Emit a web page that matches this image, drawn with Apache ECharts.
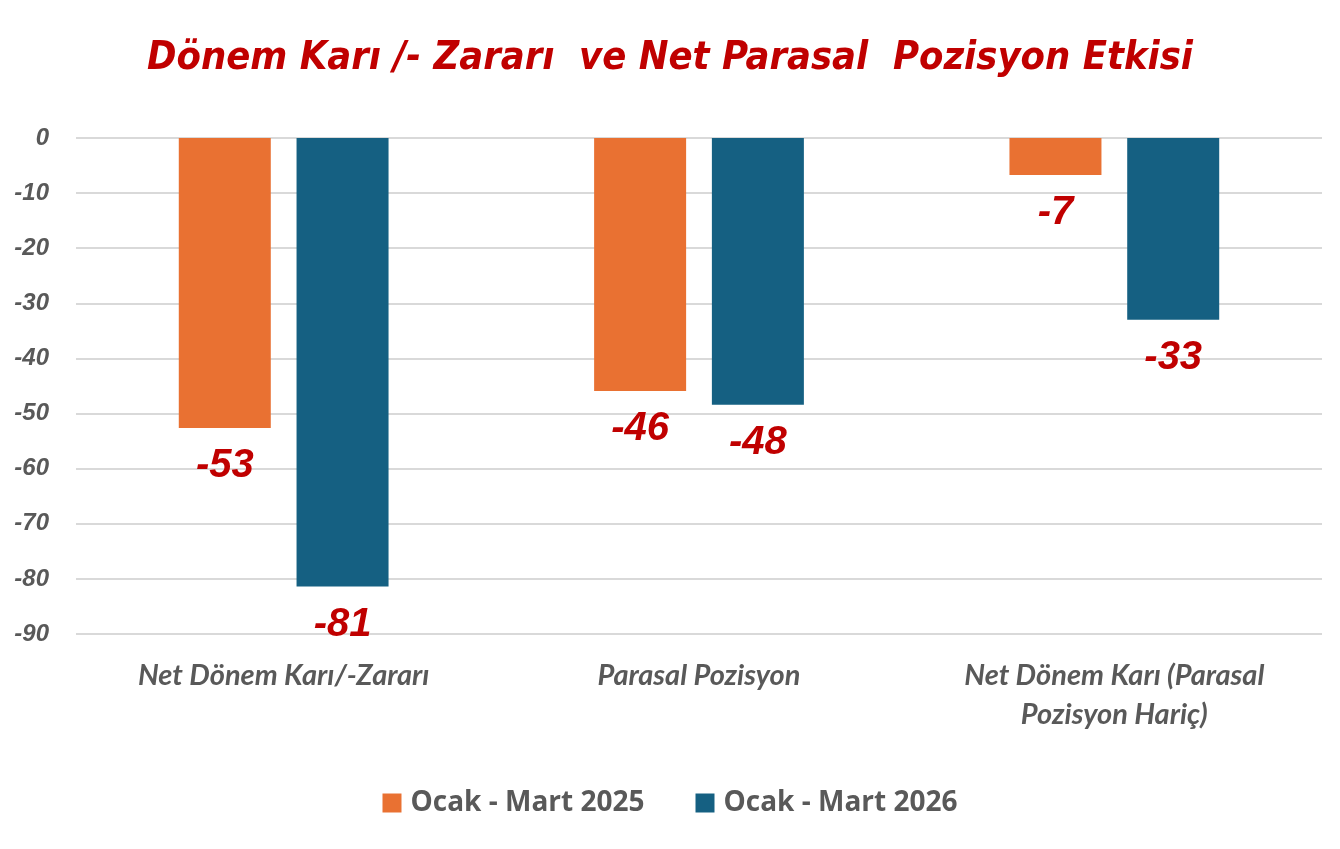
<!DOCTYPE html>
<html>
<head>
<meta charset="utf-8">
<script src="https://cdn.jsdelivr.net/npm/echarts@6/dist/echarts.min.js"></script>
<style>
  html, body { margin: 0; padding: 0; background: #fff; }
  #main { width: 1340px; height: 849px; }
</style>
</head>
<body>
<div id="main"></div>
<script>
var categories = ['Net Dönem Karı/-Zararı', 'Parasal Pozisyon', 'Net Dönem Karı (Parasal\nPozisyon Hariç)'];
var seriesNames = ['Ocak - Mart 2025', 'Ocak - Mart 2026'];
var values2025 = [-52.6, -45.9, -6.7];
var values2026 = [-81.4, -48.4, -33.0];

var myChart = echarts.init(document.getElementById('main'));

var valueLabel = {
    show: true,
    position: 'bottom',
    distance: 18,
    color: '#C00000',
    fontFamily: 'Liberation Sans',
    fontWeight: 'bold',
    fontStyle: 'italic',
    fontSize: 40,
    formatter: function (p) { return Math.round(p.value); }
};

var option = {
    backgroundColor: '#fff',
    animation: false,
    title: {
        text: 'Dönem Karı /- Zararı  ve Net Parasal  Pozisyon Etkisi',
        left: 'center',
        top: 34,
        textStyle: {
            color: '#C00000',
            fontFamily: 'DejaVu Sans Condensed',
            fontWeight: 'bold',
            fontStyle: 'italic',
            fontSize: 39.5
        }
    },
    legend: {
        top: 784,
        left: 'center',
        itemWidth: 19,
        itemHeight: 19,
        itemGap: 51,
        icon: 'rect',
        textStyle: {
            color: '#595959',
            fontFamily: 'Open Sans',
            fontWeight: 'bold',
            fontSize: 28,
            padding: [0, 0, 0, 4]
        },
        data: seriesNames
    },
    grid: {
        left: 76,
        right: 18,
        top: 138,
        bottom: 215
    },
    xAxis: {
        type: 'category',
        position: 'bottom',
        data: categories,
        axisLine: { show: false },
        axisTick: { show: false },
        axisLabel: {
            margin: 22,
            color: '#595959',
            fontFamily: 'Lato',
            fontWeight: 'bold',
            fontStyle: 'italic',
            fontSize: 29,
            lineHeight: 39
        }
    },
    yAxis: {
        type: 'value',
        min: -90,
        max: 0,
        interval: 10,
        axisLine: { show: false },
        axisTick: { show: false },
        axisLabel: {
            margin: 27,
            color: '#595959',
            fontFamily: 'Liberation Sans',
            fontWeight: 'bold',
            fontStyle: 'italic',
            fontSize: 24
        },
        splitLine: { lineStyle: { color: '#d9d9d9', width: 2 } }
    },
    series: [
        {
            name: seriesNames[0],
            type: 'bar',
            data: values2025,
            barWidth: 92,
            barGap: '28%',
            itemStyle: { color: '#E97132' },
            label: valueLabel
        },
        {
            name: seriesNames[1],
            type: 'bar',
            data: values2026,
            barWidth: 92,
            barGap: '28%',
            itemStyle: { color: '#156082' },
            label: valueLabel
        }
    ]
};

myChart.setOption(option);
</script>
</body>
</html>
